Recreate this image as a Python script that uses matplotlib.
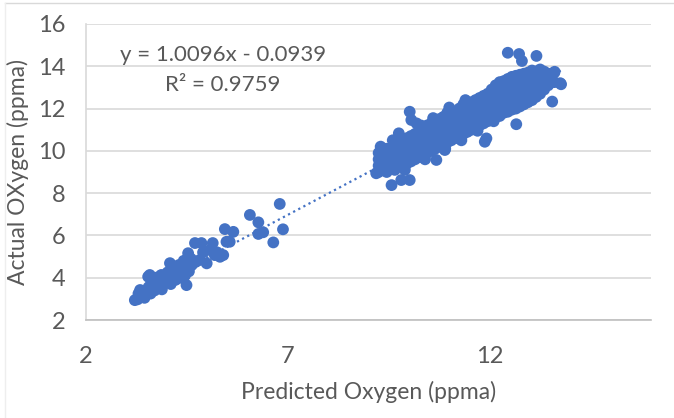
import numpy as np
import matplotlib.pyplot as plt
from matplotlib.lines import Line2D

# --- data --------------------------------------------------------------------
# low cluster (predicted, actual)
pred_low = [3.21, 3.28, 3.30, 3.34, 3.34, 3.40, 3.45, 3.50, 3.54, 3.55, 3.58,
            3.60, 3.62, 3.67, 3.70, 3.72, 3.78, 3.80, 3.85, 3.87, 3.88, 3.90,
            3.95, 3.98, 4.02, 4.05, 4.08, 4.10, 4.15, 4.20, 4.22, 4.28, 4.30,
            4.35, 4.38, 4.42, 4.45, 4.49, 4.49, 4.50, 4.53, 4.55, 4.60, 4.62,
            4.70, 4.72, 4.82, 4.86, 4.90, 4.99, 5.07, 5.14, 5.19, 5.25, 5.32,
            5.40, 5.48, 5.56, 5.44, 5.65, 6.06, 6.27, 6.27, 6.39, 6.64, 6.80,
            6.88]
act_low = [2.94, 2.98, 3.25, 3.10, 3.42, 3.20, 3.05, 3.30, 4.05, 3.55, 4.13,
           3.25, 3.80, 3.65, 3.40, 4.00, 3.60, 3.85, 4.10, 4.13, 3.45, 3.70,
           4.00, 3.80, 4.25, 3.95, 4.69, 3.70, 4.10, 4.40, 3.90, 4.20, 4.60,
           4.00, 4.35, 4.80, 4.10, 4.69, 3.65, 4.45, 5.16, 4.30, 4.90, 4.60,
           5.64, 4.75, 4.84, 5.64, 5.20, 4.68, 5.31, 5.64, 5.07, 5.20, 4.99,
           5.07, 5.70, 5.70, 6.30, 6.17, 6.97, 6.62, 6.07, 6.15, 5.67, 7.49,
           6.29]

# high cluster (predicted, actual)
pred_high = [9.19, 9.25, 9.25, 9.25, 9.25, 9.35, 9.35, 9.35, 9.35,
             9.45, 9.45, 9.45, 9.45, 9.45, 9.55, 9.55, 9.55, 9.55,
             9.65, 9.65, 9.65, 9.65, 9.65, 9.75, 9.75, 9.75, 9.75, 9.75,
             9.85, 9.85, 9.85, 9.85, 9.85, 9.95, 9.95, 9.95, 9.95, 9.95,
             10.05, 10.05, 10.05, 10.05, 10.05, 10.15, 10.15, 10.15, 10.15, 10.15,
             10.25, 10.25, 10.25, 10.25, 10.25, 10.35, 10.35, 10.35, 10.35, 10.35,
             10.45, 10.45, 10.45, 10.45, 10.45, 10.55, 10.55, 10.55, 10.55, 10.55,
             10.65, 10.65, 10.65, 10.65, 10.65, 10.75, 10.75, 10.75, 10.75, 10.75,
             10.85, 10.85, 10.85, 10.85, 10.85, 10.95, 10.95, 10.95, 10.95, 10.95,
             11.05, 11.05, 11.05, 11.05, 11.05, 11.15, 11.15, 11.15, 11.15, 11.15,
             11.25, 11.25, 11.25, 11.25, 11.25, 11.35, 11.35, 11.35, 11.35, 11.35,
             11.45, 11.45, 11.45, 11.45, 11.45, 11.55, 11.55, 11.55, 11.55, 11.55,
             11.65, 11.65, 11.65, 11.65, 11.65, 11.75, 11.75, 11.75, 11.75, 11.75,
             11.85, 11.85, 11.85, 11.85, 11.85, 11.95, 11.95, 11.95, 11.95, 11.95,
             12.05, 12.05, 12.05, 12.05, 12.05, 12.15, 12.15, 12.15, 12.15, 12.15,
             12.25, 12.25, 12.25, 12.25, 12.25, 12.25, 12.35, 12.35, 12.35, 12.35, 12.35, 12.35,
             12.45, 12.45, 12.45, 12.45, 12.45, 12.45, 12.55, 12.55, 12.55, 12.55, 12.55, 12.55,
             12.65, 12.65, 12.65, 12.65, 12.65, 12.65, 12.75, 12.75, 12.75, 12.75, 12.75, 12.75,
             12.85, 12.85, 12.85, 12.85, 12.85, 12.85, 12.95, 12.95, 12.95, 12.95, 12.95, 12.95,
             13.05, 13.05, 13.05, 13.05, 13.05, 13.05, 13.15, 13.15, 13.15, 13.15, 13.15,
             13.25, 13.25, 13.25, 13.25, 13.25, 13.35, 13.35, 13.35, 13.35,
             13.45, 13.45, 13.45, 13.60, 13.60, 13.75,
             # ragged edges
             9.30, 9.60, 10.30, 10.60, 11.00, 11.40, 10.90, 11.30, 11.70,
             12.10, 10.40, 9.90,
             # outliers
             9.57, 9.81, 10.02, 9.75, 10.02, 10.06, 10.19, 10.68, 10.89,
             11.88, 11.92, 12.66, 13.55, 12.45, 12.73, 12.80, 13.16, 13.77,
             13.40, 13.61]
act_high = [8.94, 9.00, 9.30, 9.60, 9.90, 9.10, 9.40, 9.70, 10.00,
            9.00, 9.30, 9.60, 9.90, 10.10, 9.20, 9.50, 9.80, 10.10,
            9.10, 9.40, 9.70, 10.00, 10.30, 9.30, 9.60, 9.90, 10.20, 10.45,
            9.25, 9.50, 9.80, 10.10, 10.40, 9.40, 9.70, 10.00, 10.30, 10.60,
            9.50, 9.80, 10.10, 10.40, 10.70, 9.60, 9.90, 10.20, 10.50, 10.80,
            9.70, 10.00, 10.30, 10.60, 10.95, 9.80, 10.10, 10.40, 10.70, 11.10,
            9.90, 10.20, 10.50, 10.80, 11.20, 10.00, 10.30, 10.60, 10.90, 11.30,
            10.10, 10.40, 10.70, 11.00, 11.35, 10.20, 10.50, 10.80, 11.10, 11.50,
            10.30, 10.60, 10.90, 11.20, 11.60, 10.40, 10.70, 11.00, 11.30, 11.80,
            10.50, 10.80, 11.10, 11.40, 11.90, 10.60, 10.90, 11.20, 11.50, 11.85,
            10.70, 11.00, 11.30, 11.60, 12.00, 10.80, 11.10, 11.40, 11.70, 12.20,
            10.90, 11.20, 11.50, 11.80, 12.10, 11.00, 11.30, 11.60, 11.90, 12.30,
            11.10, 11.40, 11.70, 12.00, 12.40, 11.20, 11.50, 11.80, 12.10, 12.50,
            11.30, 11.60, 11.90, 12.20, 12.60, 11.40, 11.70, 12.00, 12.30, 12.70,
            11.50, 11.80, 12.10, 12.40, 12.90, 11.60, 11.90, 12.20, 12.50, 13.10,
            11.65, 12.00, 12.30, 12.60, 12.90, 13.25, 11.80, 12.10, 12.40, 12.70, 13.00, 13.30,
            11.85, 12.20, 12.50, 12.80, 13.10, 13.40, 11.95, 12.30, 12.60, 12.90, 13.20, 13.50,
            12.00, 12.35, 12.70, 13.00, 13.30, 13.55, 12.10, 12.45, 12.80, 13.10, 13.40, 13.60,
            12.20, 12.50, 12.80, 13.10, 13.40, 13.65, 12.30, 12.60, 12.90, 13.20, 13.50, 13.70,
            12.40, 12.70, 13.00, 13.30, 13.60, 13.80, 12.55, 12.85, 13.15, 13.45, 13.75,
            12.70, 13.00, 13.30, 13.60, 13.85, 12.90, 13.20, 13.50, 13.75,
            13.10, 13.40, 13.65, 13.25, 13.70, 13.20,
            # ragged edges
            10.20, 10.50, 11.20, 11.55, 12.05, 12.40, 10.10, 10.50, 10.95,
            11.40, 9.60, 9.10,
            # outliers
            8.38, 8.62, 8.62, 10.83, 11.85, 11.46, 11.30, 9.57, 10.04,
            10.43, 10.59, 11.26, 12.33, 14.64, 14.58, 14.25, 14.49, 13.15,
            13.67, 13.74]

# Excel trendline coefficients
slope = 1.0096
intercept = -0.0939

x_ticks = [2, 7, 12]
y_ticks = [2, 4, 6, 8, 10, 12, 14, 16]

blue = '#4472C4'
gray = '#595959'

plt.rcParams['font.family'] = ['Lato', 'DejaVu Sans']

fig = plt.figure(figsize=(6.74, 4.18), dpi=100)
ax = fig.add_axes([0.1276, 0.2344, 0.8384, 0.7082])

px = np.array(pred_low + pred_high)
py = np.array(act_low + act_high)
ax.scatter(px, py, s=72, color=blue, edgecolors='none', zorder=3)

tx = np.array([px.min(), px.max()])
ax.plot(tx, slope * tx + intercept, color=blue, lw=1.6, ls=(0, (1, 1.6)), zorder=4)

ax.set_xlim(2, 16)
ax.set_ylim(2, 16)
ax.set_xticks(x_ticks)
ax.set_yticks(y_ticks)
ax.tick_params(length=0, labelsize=17, labelcolor=gray)
ax.tick_params(axis='y', pad=15)
ax.tick_params(axis='x', pad=19)
ax.grid(axis='y', color='#D9D9D9', lw=1.2)
ax.set_axisbelow(True)
for s in ['top', 'right']:
    ax.spines[s].set_visible(False)
ax.spines['left'].set_color('#D9D9D9')
ax.spines['bottom'].set_color('#BFBFBF')
ax.spines['left'].set_linewidth(1.2)
ax.spines['bottom'].set_linewidth(1.2)

ax.set_xlabel('Predicted Oxygen (ppma)', fontsize=16.5, color=gray, labelpad=10)
ax.set_ylabel('Actual OXygen (ppma)', fontsize=16.5, color=gray, labelpad=6)

ax.text(223 / 674, 1 - 55 / 418, 'y = 1.0096x - 0.0939', transform=fig.transFigure,
        fontsize=16, color=gray, ha='center', va='center')
ax.text(223 / 674, 1 - 85 / 418, 'R² = 0.9759', transform=fig.transFigure,
        fontsize=16, color=gray, ha='center', va='center')

# chart-area border remnants
fig.add_artist(Line2D([0.008, 1], [0.993, 0.993], color='#D9D9D9', lw=1))
fig.add_artist(Line2D([0.008, 0.008], [0, 0.993], color='#EEEEEE', lw=1))

fig.savefig('out.png', dpi=100)
